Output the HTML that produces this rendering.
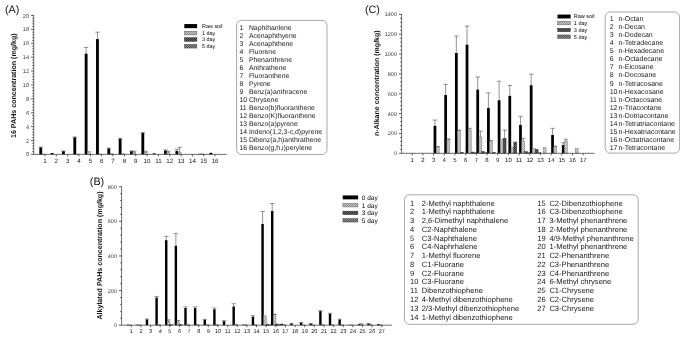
<!DOCTYPE html>
<html><head><meta charset="utf-8"><title>Figure</title>
<style>html,body{margin:0;padding:0;background:#fff;}svg{display:block;font-family:"Liberation Sans", Arial, sans-serif;text-rendering:geometricPrecision;}</style>
</head><body>
<svg width="685" height="338" viewBox="0 0 685 338">
<rect width="685" height="338" fill="#fff"/>
<defs>
<pattern id="p1" width="2" height="2" patternUnits="userSpaceOnUse"><rect width="2" height="2" fill="#d2d2d2"/><rect width="1" height="1" fill="#aaaaaa"/><rect x="1" y="1" width="1" height="1" fill="#aaaaaa"/></pattern>
<pattern id="p2" width="2" height="2" patternUnits="userSpaceOnUse"><rect width="2" height="2" fill="#646464"/><rect width="1" height="1" fill="#303030"/><rect x="1" y="1" width="1" height="1" fill="#303030"/></pattern>
<pattern id="p3" width="2" height="2" patternUnits="userSpaceOnUse"><rect width="2" height="2" fill="#8c8c8c"/><rect width="1" height="1" fill="#585858"/><rect x="1" y="1" width="1" height="1" fill="#585858"/></pattern>
<pattern id="p1L" width="2" height="2" patternUnits="userSpaceOnUse"><rect width="2" height="2" fill="#c8c8c8"/><rect width="1" height="1" fill="#909090"/><rect x="1" y="1" width="1" height="1" fill="#909090"/></pattern>
<filter id="bl" x="0" y="0" width="685" height="338" filterUnits="userSpaceOnUse"><feGaussianBlur stdDeviation="0.35"/></filter>
</defs>
<g filter="url(#bl)">
<text x="4.9" y="13.4" font-size="10.8" fill="#111">(A)</text>
<text transform="translate(16.40 85.65) rotate(-90)" font-size="7.1" font-weight="bold" text-anchor="middle" fill="#111">16 PAHs concentration (mg/kg)</text>
<rect x="39.34" y="147.46" width="2.83" height="6.95" fill="#000"/>
<path d="M40.76 147.46V147.04M38.55 147.04H42.96" stroke="#2a2a2a" stroke-width="0.5" fill="none"/>
<rect x="42.07" y="154.05" width="3.03" height="0.35" fill="url(#p1)" stroke="#777" stroke-width="0.45"/>
<rect x="50.68" y="153.01" width="2.83" height="1.39" fill="#000"/>
<rect x="62.02" y="151.27" width="2.83" height="3.13" fill="#000"/>
<path d="M63.44 151.27V151.00M61.24 151.00H65.64" stroke="#2a2a2a" stroke-width="0.5" fill="none"/>
<rect x="73.36" y="137.32" width="2.83" height="17.08" fill="#000"/>
<path d="M74.78 137.32V136.97M72.58 136.97H76.98" stroke="#2a2a2a" stroke-width="0.5" fill="none"/>
<rect x="76.09" y="154.05" width="3.03" height="0.35" fill="url(#p1)" stroke="#777" stroke-width="0.45"/>
<rect x="84.70" y="53.70" width="2.83" height="100.70" fill="#000"/>
<path d="M86.12 53.70V47.45M83.92 47.45H88.32" stroke="#2a2a2a" stroke-width="0.5" fill="none"/>
<rect x="87.43" y="151.27" width="3.03" height="3.13" fill="url(#p1)" stroke="#777" stroke-width="0.45"/>
<rect x="96.04" y="39.11" width="2.83" height="115.29" fill="#000"/>
<path d="M97.46 39.11V32.17M95.26 32.17H99.66" stroke="#2a2a2a" stroke-width="0.5" fill="none"/>
<rect x="98.77" y="154.05" width="3.03" height="0.35" fill="url(#p1)" stroke="#777" stroke-width="0.45"/>
<rect x="107.38" y="148.50" width="2.83" height="5.90" fill="#000"/>
<path d="M108.80 148.50V148.15M106.59 148.15H111.00" stroke="#2a2a2a" stroke-width="0.5" fill="none"/>
<rect x="110.11" y="153.71" width="3.03" height="0.69" fill="url(#p1)" stroke="#777" stroke-width="0.45"/>
<rect x="118.72" y="138.77" width="2.83" height="15.63" fill="#000"/>
<path d="M120.14 138.77V138.22M117.94 138.22H122.34" stroke="#2a2a2a" stroke-width="0.5" fill="none"/>
<rect x="121.45" y="153.71" width="3.03" height="0.69" fill="url(#p1)" stroke="#777" stroke-width="0.45"/>
<rect x="130.06" y="151.27" width="2.83" height="3.13" fill="#000"/>
<path d="M131.47 151.27V150.93M129.28 150.93H133.67" stroke="#2a2a2a" stroke-width="0.5" fill="none"/>
<rect x="132.79" y="152.32" width="3.03" height="2.08" fill="url(#p1)" stroke="#777" stroke-width="0.45"/>
<path d="M134.31 152.32V151.27M132.11 151.27H136.50" stroke="#2a2a2a" stroke-width="0.5" fill="none"/>
<rect x="141.40" y="133.08" width="2.83" height="21.32" fill="#000"/>
<path d="M142.81 133.08V132.52M140.62 132.52H145.01" stroke="#2a2a2a" stroke-width="0.5" fill="none"/>
<rect x="144.13" y="152.32" width="3.03" height="2.08" fill="url(#p1)" stroke="#777" stroke-width="0.45"/>
<path d="M145.65 152.32V151.27M143.45 151.27H147.84" stroke="#2a2a2a" stroke-width="0.5" fill="none"/>
<rect x="152.74" y="153.36" width="2.83" height="1.04" fill="#000"/>
<rect x="164.08" y="150.58" width="2.83" height="3.82" fill="#000"/>
<path d="M165.50 150.58V149.89M163.30 149.89H167.69" stroke="#2a2a2a" stroke-width="0.5" fill="none"/>
<rect x="166.81" y="152.32" width="3.03" height="2.08" fill="url(#p1)" stroke="#777" stroke-width="0.45"/>
<path d="M168.33 152.32V151.27M166.13 151.27H170.53" stroke="#2a2a2a" stroke-width="0.5" fill="none"/>
<rect x="175.42" y="150.93" width="2.83" height="3.47" fill="#000"/>
<path d="M176.83 150.93V149.26M174.63 149.26H179.03" stroke="#2a2a2a" stroke-width="0.5" fill="none"/>
<rect x="178.15" y="152.11" width="3.03" height="2.29" fill="url(#p1)" stroke="#777" stroke-width="0.45"/>
<path d="M179.66 152.11V147.25M177.47 147.25H181.86" stroke="#2a2a2a" stroke-width="0.5" fill="none"/>
<rect x="198.10" y="153.84" width="2.83" height="0.56" fill="#000"/>
<rect x="200.83" y="153.84" width="3.03" height="0.56" fill="url(#p1)" stroke="#777" stroke-width="0.45"/>
<rect x="209.44" y="152.80" width="2.83" height="1.60" fill="#000"/>
<path d="M33.70 15.20V154.40H226.80" stroke="#3c3c3c" stroke-width="0.75" fill="none"/>
<text x="29.10" y="156.47" font-size="5.6" text-anchor="end" fill="#3a3a3a">0</text>
<text x="29.10" y="142.58" font-size="5.6" text-anchor="end" fill="#3a3a3a">2</text>
<text x="29.10" y="128.69" font-size="5.6" text-anchor="end" fill="#3a3a3a">4</text>
<text x="29.10" y="114.80" font-size="5.6" text-anchor="end" fill="#3a3a3a">6</text>
<text x="29.10" y="100.91" font-size="5.6" text-anchor="end" fill="#3a3a3a">8</text>
<text x="29.10" y="87.02" font-size="5.6" text-anchor="end" fill="#3a3a3a">10</text>
<text x="29.10" y="73.13" font-size="5.6" text-anchor="end" fill="#3a3a3a">12</text>
<text x="29.10" y="59.24" font-size="5.6" text-anchor="end" fill="#3a3a3a">14</text>
<text x="29.10" y="45.35" font-size="5.6" text-anchor="end" fill="#3a3a3a">16</text>
<text x="29.10" y="31.46" font-size="5.6" text-anchor="end" fill="#3a3a3a">18</text>
<text x="29.10" y="17.57" font-size="5.6" text-anchor="end" fill="#3a3a3a">20</text>
<text x="45.00" y="162.50" font-size="6.2" text-anchor="middle" fill="#151515">1</text>
<text x="56.34" y="162.50" font-size="6.2" text-anchor="middle" fill="#151515">2</text>
<text x="67.68" y="162.50" font-size="6.2" text-anchor="middle" fill="#151515">3</text>
<text x="79.02" y="162.50" font-size="6.2" text-anchor="middle" fill="#151515">4</text>
<text x="90.36" y="162.50" font-size="6.2" text-anchor="middle" fill="#151515">5</text>
<text x="101.70" y="162.50" font-size="6.2" text-anchor="middle" fill="#151515">6</text>
<text x="113.04" y="162.50" font-size="6.2" text-anchor="middle" fill="#151515">7</text>
<text x="124.38" y="162.50" font-size="6.2" text-anchor="middle" fill="#151515">8</text>
<text x="135.72" y="162.50" font-size="6.2" text-anchor="middle" fill="#151515">9</text>
<text x="147.06" y="162.50" font-size="6.2" text-anchor="middle" fill="#151515">10</text>
<text x="158.40" y="162.50" font-size="6.2" text-anchor="middle" fill="#151515">11</text>
<text x="169.74" y="162.50" font-size="6.2" text-anchor="middle" fill="#151515">12</text>
<text x="181.08" y="162.50" font-size="6.2" text-anchor="middle" fill="#151515">13</text>
<text x="192.42" y="162.50" font-size="6.2" text-anchor="middle" fill="#151515">14</text>
<text x="203.76" y="162.50" font-size="6.2" text-anchor="middle" fill="#151515">15</text>
<text x="215.10" y="162.50" font-size="6.2" text-anchor="middle" fill="#151515">16</text>
<path d="M31.10 154.40H33.70M32.30 151.62H33.70M32.30 148.84H33.70M32.30 146.07H33.70M32.30 143.29H33.70M31.10 140.51H33.70M32.30 137.73H33.70M32.30 134.95H33.70M32.30 132.18H33.70M32.30 129.40H33.70M31.10 126.62H33.70M32.30 123.84H33.70M32.30 121.06H33.70M32.30 118.29H33.70M32.30 115.51H33.70M31.10 112.73H33.70M32.30 109.95H33.70M32.30 107.17H33.70M32.30 104.40H33.70M32.30 101.62H33.70M31.10 98.84H33.70M32.30 96.06H33.70M32.30 93.28H33.70M32.30 90.51H33.70M32.30 87.73H33.70M31.10 84.95H33.70M32.30 82.17H33.70M32.30 79.39H33.70M32.30 76.62H33.70M32.30 73.84H33.70M31.10 71.06H33.70M32.30 68.28H33.70M32.30 65.50H33.70M32.30 62.73H33.70M32.30 59.95H33.70M31.10 57.17H33.70M32.30 54.39H33.70M32.30 51.61H33.70M32.30 48.84H33.70M32.30 46.06H33.70M31.10 43.28H33.70M32.30 40.50H33.70M32.30 37.72H33.70M32.30 34.95H33.70M32.30 32.17H33.70M31.10 29.39H33.70M32.30 26.61H33.70M32.30 23.83H33.70M32.30 21.06H33.70M32.30 18.28H33.70M31.10 15.50H33.70M45.00 154.40V156.40M56.34 154.40V156.40M67.68 154.40V156.40M79.02 154.40V156.40M90.36 154.40V156.40M101.70 154.40V156.40M113.04 154.40V156.40M124.38 154.40V156.40M135.72 154.40V156.40M147.06 154.40V156.40M158.40 154.40V156.40M169.74 154.40V156.40M181.08 154.40V156.40M192.42 154.40V156.40M203.76 154.40V156.40M215.10 154.40V156.40" stroke="#2a2a2a" stroke-width="0.75" fill="none"/>
<rect x="184.30" y="24.05" width="12.80" height="4.10" fill="#000"/>
<text x="202.00" y="28.06" font-size="5.45" fill="#000">Raw soil</text>
<rect x="184.50" y="31.25" width="12.40" height="3.70" fill="url(#p1L)" stroke="#555" stroke-width="0.45"/>
<text x="202.00" y="35.06" font-size="5.45" fill="#000">1 day</text>
<rect x="184.50" y="37.65" width="12.40" height="3.70" fill="url(#p2)" stroke="#2a2a2a" stroke-width="0.45"/>
<text x="202.00" y="41.46" font-size="5.45" fill="#000">3 day</text>
<rect x="184.50" y="44.35" width="12.40" height="3.70" fill="url(#p3)" stroke="#444" stroke-width="0.45"/>
<text x="202.00" y="48.16" font-size="5.45" fill="#000">5 day</text>
<rect x="236.60" y="20.40" width="90.40" height="134.10" rx="5" ry="5" fill="#fff" stroke="#7a7a7a" stroke-width="0.65"/>
<text x="239.50" y="29.67" font-size="6.86" fill="#1a1a1a">1</text>
<text x="248.90" y="29.67" font-size="6.86" fill="#1a1a1a">Naphthanlene</text>
<text x="239.50" y="37.67" font-size="6.86" fill="#1a1a1a">2</text>
<text x="248.90" y="37.67" font-size="6.86" fill="#1a1a1a">Acenaphthyene</text>
<text x="239.50" y="45.67" font-size="6.86" fill="#1a1a1a">3</text>
<text x="248.90" y="45.67" font-size="6.86" fill="#1a1a1a">Acenaphthene</text>
<text x="239.50" y="53.67" font-size="6.86" fill="#1a1a1a">4</text>
<text x="248.90" y="53.67" font-size="6.86" fill="#1a1a1a">Fluorene</text>
<text x="239.50" y="61.67" font-size="6.86" fill="#1a1a1a">5</text>
<text x="248.90" y="61.67" font-size="6.86" fill="#1a1a1a">Phenanthrene</text>
<text x="239.50" y="69.67" font-size="6.86" fill="#1a1a1a">6</text>
<text x="248.90" y="69.67" font-size="6.86" fill="#1a1a1a">Anthrathene</text>
<text x="239.50" y="77.67" font-size="6.86" fill="#1a1a1a">7</text>
<text x="248.90" y="77.67" font-size="6.86" fill="#1a1a1a">Fluoranthene</text>
<text x="239.50" y="85.67" font-size="6.86" fill="#1a1a1a">8</text>
<text x="248.90" y="85.67" font-size="6.86" fill="#1a1a1a">Pyrene</text>
<text x="239.50" y="93.67" font-size="6.86" fill="#1a1a1a">9</text>
<text x="248.90" y="93.67" font-size="6.86" fill="#1a1a1a">Benz(a)anthracene</text>
<text x="239.50" y="101.67" font-size="6.86" fill="#1a1a1a">10</text>
<text x="248.90" y="101.67" font-size="6.86" fill="#1a1a1a">Chrysene</text>
<text x="239.50" y="109.67" font-size="6.86" fill="#1a1a1a">11</text>
<text x="248.90" y="109.67" font-size="6.86" fill="#1a1a1a">Benzo(b)fluoranthene</text>
<text x="239.50" y="117.67" font-size="6.86" fill="#1a1a1a">12</text>
<text x="248.90" y="117.67" font-size="6.86" fill="#1a1a1a">Benzo(K)fluoranthene</text>
<text x="239.50" y="125.67" font-size="6.86" fill="#1a1a1a">13</text>
<text x="248.90" y="125.67" font-size="6.86" fill="#1a1a1a">Benzo(a)pyrene</text>
<text x="239.50" y="133.67" font-size="6.86" fill="#1a1a1a">14</text>
<text x="248.90" y="133.67" font-size="6.86" fill="#1a1a1a">Indeno(1,2,3-c,d)pyrene</text>
<text x="239.50" y="141.67" font-size="6.86" fill="#1a1a1a">15</text>
<text x="248.90" y="141.67" font-size="6.86" fill="#1a1a1a">Dibenz(a,h)anthrathene</text>
<text x="239.50" y="149.67" font-size="6.86" fill="#1a1a1a">16</text>
<text x="248.90" y="149.67" font-size="6.86" fill="#1a1a1a">Benzo(g,h,i)perylene</text>
<text x="364.9" y="13.4" font-size="10.8" fill="#111">(C)</text>
<text transform="translate(378.80 83.20) rotate(-90)" font-size="7.05" font-weight="bold" text-anchor="middle" fill="#111">n-Alkane concentration (mg/kg)</text>
<rect x="433.58" y="125.82" width="2.75" height="27.48" fill="#000"/>
<path d="M434.95 125.82V120.06M432.75 120.06H437.15" stroke="#2a2a2a" stroke-width="0.5" fill="none"/>
<rect x="436.23" y="147.05" width="2.95" height="6.25" fill="url(#p1)" stroke="#777" stroke-width="0.45"/>
<path d="M437.70 147.05V146.55M435.50 146.55H439.90" stroke="#2a2a2a" stroke-width="0.5" fill="none"/>
<rect x="444.27" y="95.06" width="2.75" height="58.24" fill="#000"/>
<path d="M445.64 95.06V84.44M443.44 84.44H447.84" stroke="#2a2a2a" stroke-width="0.5" fill="none"/>
<rect x="446.92" y="139.71" width="2.95" height="13.59" fill="url(#p1)" stroke="#777" stroke-width="0.45"/>
<path d="M448.39 139.71V138.91M446.19 138.91H450.59" stroke="#2a2a2a" stroke-width="0.5" fill="none"/>
<rect x="454.96" y="52.99" width="2.75" height="100.31" fill="#000"/>
<path d="M456.33 52.99V36.13M454.13 36.13H458.53" stroke="#2a2a2a" stroke-width="0.5" fill="none"/>
<rect x="457.61" y="130.68" width="2.95" height="22.62" fill="url(#p1)" stroke="#777" stroke-width="0.45"/>
<path d="M459.08 130.68V130.18M456.88 130.18H461.28" stroke="#2a2a2a" stroke-width="0.5" fill="none"/>
<rect x="460.36" y="152.31" width="2.95" height="0.99" fill="url(#p2)" stroke="#333" stroke-width="0.45"/>
<rect x="465.65" y="44.66" width="2.75" height="108.64" fill="#000"/>
<path d="M467.02 44.66V26.10M464.82 26.10H469.22" stroke="#2a2a2a" stroke-width="0.5" fill="none"/>
<rect x="468.30" y="130.08" width="2.95" height="23.22" fill="url(#p1)" stroke="#777" stroke-width="0.45"/>
<path d="M469.77 130.08V128.30M467.57 128.30H471.97" stroke="#2a2a2a" stroke-width="0.5" fill="none"/>
<rect x="471.05" y="152.01" width="2.95" height="1.29" fill="url(#p2)" stroke="#333" stroke-width="0.45"/>
<rect x="473.80" y="152.51" width="2.95" height="0.79" fill="url(#p3)" stroke="#555" stroke-width="0.45"/>
<rect x="476.34" y="89.60" width="2.75" height="63.70" fill="#000"/>
<path d="M477.71 89.60V77.00M475.51 77.00H479.91" stroke="#2a2a2a" stroke-width="0.5" fill="none"/>
<rect x="478.99" y="137.03" width="2.95" height="16.27" fill="url(#p1)" stroke="#777" stroke-width="0.45"/>
<path d="M480.46 137.03V131.17M478.26 131.17H482.66" stroke="#2a2a2a" stroke-width="0.5" fill="none"/>
<rect x="481.74" y="151.61" width="2.95" height="1.69" fill="url(#p2)" stroke="#333" stroke-width="0.45"/>
<rect x="484.49" y="152.51" width="2.95" height="0.79" fill="url(#p3)" stroke="#555" stroke-width="0.45"/>
<rect x="487.03" y="108.06" width="2.75" height="45.24" fill="#000"/>
<path d="M488.40 108.06V92.88M486.20 92.88H490.60" stroke="#2a2a2a" stroke-width="0.5" fill="none"/>
<rect x="489.68" y="141.19" width="2.95" height="12.11" fill="url(#p1)" stroke="#777" stroke-width="0.45"/>
<path d="M491.15 141.19V140.40M488.95 140.40H493.35" stroke="#2a2a2a" stroke-width="0.5" fill="none"/>
<rect x="492.43" y="152.31" width="2.95" height="0.99" fill="url(#p2)" stroke="#333" stroke-width="0.45"/>
<rect x="497.72" y="100.22" width="2.75" height="53.08" fill="#000"/>
<path d="M499.09 100.22V81.27M496.89 81.27H501.29" stroke="#2a2a2a" stroke-width="0.5" fill="none"/>
<rect x="500.37" y="139.71" width="2.95" height="13.59" fill="url(#p1)" stroke="#777" stroke-width="0.45"/>
<rect x="503.12" y="138.32" width="2.95" height="14.98" fill="url(#p2)" stroke="#333" stroke-width="0.45"/>
<path d="M504.59 138.32V130.08M502.39 130.08H506.79" stroke="#2a2a2a" stroke-width="0.5" fill="none"/>
<rect x="508.41" y="95.85" width="2.75" height="57.45" fill="#000"/>
<path d="M509.78 95.85V85.44M507.58 85.44H511.98" stroke="#2a2a2a" stroke-width="0.5" fill="none"/>
<rect x="511.06" y="147.34" width="2.95" height="5.96" fill="url(#p1)" stroke="#777" stroke-width="0.45"/>
<rect x="513.81" y="142.58" width="2.95" height="10.72" fill="url(#p2)" stroke="#333" stroke-width="0.45"/>
<path d="M515.28 142.58V142.09M513.08 142.09H517.49" stroke="#2a2a2a" stroke-width="0.5" fill="none"/>
<rect x="519.10" y="124.92" width="2.75" height="28.38" fill="#000"/>
<path d="M520.48 124.92V116.29M518.27 116.29H522.68" stroke="#2a2a2a" stroke-width="0.5" fill="none"/>
<rect x="521.75" y="141.00" width="2.95" height="12.30" fill="url(#p1)" stroke="#777" stroke-width="0.45"/>
<path d="M523.23 141.00V138.32M521.02 138.32H525.43" stroke="#2a2a2a" stroke-width="0.5" fill="none"/>
<rect x="524.50" y="151.61" width="2.95" height="1.69" fill="url(#p2)" stroke="#333" stroke-width="0.45"/>
<rect x="527.25" y="152.51" width="2.95" height="0.79" fill="url(#p3)" stroke="#555" stroke-width="0.45"/>
<rect x="529.79" y="85.24" width="2.75" height="68.06" fill="#000"/>
<path d="M531.16 85.24V74.12M528.96 74.12H533.37" stroke="#2a2a2a" stroke-width="0.5" fill="none"/>
<rect x="532.44" y="148.34" width="2.95" height="4.96" fill="url(#p1)" stroke="#777" stroke-width="0.45"/>
<rect x="535.19" y="149.43" width="2.95" height="3.87" fill="url(#p2)" stroke="#333" stroke-width="0.45"/>
<rect x="537.94" y="152.61" width="2.95" height="0.69" fill="url(#p3)" stroke="#555" stroke-width="0.45"/>
<rect x="543.13" y="147.44" width="2.95" height="5.86" fill="url(#p1)" stroke="#777" stroke-width="0.45"/>
<rect x="551.17" y="135.04" width="2.75" height="18.26" fill="#000"/>
<path d="M552.54 135.04V128.30M550.34 128.30H554.75" stroke="#2a2a2a" stroke-width="0.5" fill="none"/>
<rect x="553.82" y="146.65" width="2.95" height="6.65" fill="url(#p1)" stroke="#777" stroke-width="0.45"/>
<path d="M555.29 146.65V146.15M553.09 146.15H557.50" stroke="#2a2a2a" stroke-width="0.5" fill="none"/>
<rect x="561.86" y="145.06" width="2.75" height="8.24" fill="#000"/>
<path d="M563.24 145.06V142.78M561.03 142.78H565.44" stroke="#2a2a2a" stroke-width="0.5" fill="none"/>
<rect x="564.51" y="141.00" width="2.95" height="12.30" fill="url(#p1)" stroke="#777" stroke-width="0.45"/>
<path d="M565.99 141.00V139.21M563.78 139.21H568.19" stroke="#2a2a2a" stroke-width="0.5" fill="none"/>
<rect x="575.20" y="148.34" width="2.95" height="4.96" fill="url(#p1)" stroke="#777" stroke-width="0.45"/>
<path d="M401.60 14.10V153.30H594.60" stroke="#3c3c3c" stroke-width="0.75" fill="none"/>
<text x="397.00" y="155.34" font-size="5.5" text-anchor="end" fill="#3a3a3a">0</text>
<text x="397.00" y="135.49" font-size="5.5" text-anchor="end" fill="#3a3a3a">200</text>
<text x="397.00" y="115.65" font-size="5.5" text-anchor="end" fill="#3a3a3a">400</text>
<text x="397.00" y="95.81" font-size="5.5" text-anchor="end" fill="#3a3a3a">600</text>
<text x="397.00" y="75.96" font-size="5.5" text-anchor="end" fill="#3a3a3a">800</text>
<text x="397.00" y="56.12" font-size="5.5" text-anchor="end" fill="#3a3a3a">1000</text>
<text x="397.00" y="36.28" font-size="5.5" text-anchor="end" fill="#3a3a3a">1200</text>
<text x="397.00" y="16.44" font-size="5.5" text-anchor="end" fill="#3a3a3a">1400</text>
<text x="412.20" y="162.00" font-size="6.0" text-anchor="middle" fill="#151515">1</text>
<text x="422.89" y="162.00" font-size="6.0" text-anchor="middle" fill="#151515">2</text>
<text x="433.58" y="162.00" font-size="6.0" text-anchor="middle" fill="#151515">3</text>
<text x="444.27" y="162.00" font-size="6.0" text-anchor="middle" fill="#151515">4</text>
<text x="454.96" y="162.00" font-size="6.0" text-anchor="middle" fill="#151515">5</text>
<text x="465.65" y="162.00" font-size="6.0" text-anchor="middle" fill="#151515">6</text>
<text x="476.34" y="162.00" font-size="6.0" text-anchor="middle" fill="#151515">7</text>
<text x="487.03" y="162.00" font-size="6.0" text-anchor="middle" fill="#151515">8</text>
<text x="497.72" y="162.00" font-size="6.0" text-anchor="middle" fill="#151515">9</text>
<text x="508.41" y="162.00" font-size="6.0" text-anchor="middle" fill="#151515">10</text>
<text x="519.10" y="162.00" font-size="6.0" text-anchor="middle" fill="#151515">11</text>
<text x="529.79" y="162.00" font-size="6.0" text-anchor="middle" fill="#151515">12</text>
<text x="540.48" y="162.00" font-size="6.0" text-anchor="middle" fill="#151515">13</text>
<text x="551.17" y="162.00" font-size="6.0" text-anchor="middle" fill="#151515">14</text>
<text x="561.86" y="162.00" font-size="6.0" text-anchor="middle" fill="#151515">15</text>
<text x="572.55" y="162.00" font-size="6.0" text-anchor="middle" fill="#151515">16</text>
<text x="583.24" y="162.00" font-size="6.0" text-anchor="middle" fill="#151515">17</text>
<path d="M399.00 153.30H401.60M400.20 149.33H401.60M400.20 145.36H401.60M400.20 141.39H401.60M400.20 137.43H401.60M399.00 133.46H401.60M400.20 129.49H401.60M400.20 125.52H401.60M400.20 121.55H401.60M400.20 117.58H401.60M399.00 113.61H401.60M400.20 109.65H401.60M400.20 105.68H401.60M400.20 101.71H401.60M400.20 97.74H401.60M399.00 93.77H401.60M400.20 89.80H401.60M400.20 85.83H401.60M400.20 81.87H401.60M400.20 77.90H401.60M399.00 73.93H401.60M400.20 69.96H401.60M400.20 65.99H401.60M400.20 62.02H401.60M400.20 58.05H401.60M399.00 54.09H401.60M400.20 50.12H401.60M400.20 46.15H401.60M400.20 42.18H401.60M400.20 38.21H401.60M399.00 34.24H401.60M400.20 30.27H401.60M400.20 26.31H401.60M400.20 22.34H401.60M400.20 18.37H401.60M399.00 14.40H401.60M412.20 153.30V155.30M422.89 153.30V155.30M433.58 153.30V155.30M444.27 153.30V155.30M454.96 153.30V155.30M465.65 153.30V155.30M476.34 153.30V155.30M487.03 153.30V155.30M497.72 153.30V155.30M508.41 153.30V155.30M519.10 153.30V155.30M529.79 153.30V155.30M540.48 153.30V155.30M551.17 153.30V155.30M561.86 153.30V155.30M572.55 153.30V155.30M583.24 153.30V155.30" stroke="#2a2a2a" stroke-width="0.75" fill="none"/>
<rect x="557.50" y="14.55" width="13.10" height="3.90" fill="#000"/>
<text x="573.80" y="18.48" font-size="5.5" fill="#000">Raw soil</text>
<rect x="557.70" y="21.35" width="12.70" height="3.50" fill="url(#p1L)" stroke="#555" stroke-width="0.45"/>
<text x="573.80" y="25.08" font-size="5.5" fill="#000">1 day</text>
<rect x="557.70" y="28.25" width="12.70" height="3.50" fill="url(#p2)" stroke="#2a2a2a" stroke-width="0.45"/>
<text x="573.80" y="31.98" font-size="5.5" fill="#000">3 day</text>
<rect x="557.70" y="34.95" width="12.70" height="3.50" fill="url(#p3)" stroke="#444" stroke-width="0.45"/>
<text x="573.80" y="38.68" font-size="5.5" fill="#000">5 day</text>
<rect x="605.20" y="12.00" width="74.40" height="141.10" rx="5" ry="5" fill="#fff" stroke="#7a7a7a" stroke-width="0.65"/>
<text x="609.70" y="21.12" font-size="7.0" fill="#1a1a1a">1</text>
<text x="618.50" y="21.12" font-size="7.0" fill="#1a1a1a">n-Octan</text>
<text x="609.70" y="29.17" font-size="7.0" fill="#1a1a1a">2</text>
<text x="618.50" y="29.17" font-size="7.0" fill="#1a1a1a">n-Decan</text>
<text x="609.70" y="37.22" font-size="7.0" fill="#1a1a1a">3</text>
<text x="618.50" y="37.22" font-size="7.0" fill="#1a1a1a">n-Dodecan</text>
<text x="609.70" y="45.27" font-size="7.0" fill="#1a1a1a">4</text>
<text x="618.50" y="45.27" font-size="7.0" fill="#1a1a1a">n-Tetradecane</text>
<text x="609.70" y="53.32" font-size="7.0" fill="#1a1a1a">5</text>
<text x="618.50" y="53.32" font-size="7.0" fill="#1a1a1a">n-Hexadecane</text>
<text x="609.70" y="61.37" font-size="7.0" fill="#1a1a1a">6</text>
<text x="618.50" y="61.37" font-size="7.0" fill="#1a1a1a">n-Octadecane</text>
<text x="609.70" y="69.42" font-size="7.0" fill="#1a1a1a">7</text>
<text x="618.50" y="69.42" font-size="7.0" fill="#1a1a1a">n-Eicosane</text>
<text x="609.70" y="77.47" font-size="7.0" fill="#1a1a1a">8</text>
<text x="618.50" y="77.47" font-size="7.0" fill="#1a1a1a">n-Docosane</text>
<text x="609.70" y="85.52" font-size="7.0" fill="#1a1a1a">9</text>
<text x="618.50" y="85.52" font-size="7.0" fill="#1a1a1a">n-Tetracosane</text>
<text x="609.70" y="93.57" font-size="7.0" fill="#1a1a1a">10</text>
<text x="618.50" y="93.57" font-size="7.0" fill="#1a1a1a">n-Hexacosane</text>
<text x="609.70" y="101.62" font-size="7.0" fill="#1a1a1a">11</text>
<text x="618.50" y="101.62" font-size="7.0" fill="#1a1a1a">n-Octacosane</text>
<text x="609.70" y="109.67" font-size="7.0" fill="#1a1a1a">12</text>
<text x="618.50" y="109.67" font-size="7.0" fill="#1a1a1a">n-Triacontane</text>
<text x="609.70" y="117.72" font-size="7.0" fill="#1a1a1a">13</text>
<text x="618.50" y="117.72" font-size="7.0" fill="#1a1a1a">n-Dotriacontane</text>
<text x="609.70" y="125.77" font-size="7.0" fill="#1a1a1a">14</text>
<text x="618.50" y="125.77" font-size="7.0" fill="#1a1a1a">n-Tetratriacontane</text>
<text x="609.70" y="133.82" font-size="7.0" fill="#1a1a1a">15</text>
<text x="618.50" y="133.82" font-size="7.0" fill="#1a1a1a">n-Hexatriacontane</text>
<text x="609.70" y="141.87" font-size="7.0" fill="#1a1a1a">16</text>
<text x="618.50" y="141.87" font-size="7.0" fill="#1a1a1a">n-Octatriacontane</text>
<text x="609.70" y="149.92" font-size="7.0" fill="#1a1a1a">17</text>
<text x="618.50" y="149.92" font-size="7.0" fill="#1a1a1a">n-Tetracontane</text>
<text x="89.8" y="184.9" font-size="10.8" fill="#111">(B)</text>
<text transform="translate(102.00 255.50) rotate(-90)" font-size="7.09" font-weight="bold" text-anchor="middle" fill="#111">Alkylated PAHs concentration (mg/kg)</text>
<rect x="126.48" y="324.68" width="2.41" height="0.52" fill="#000"/>
<rect x="128.79" y="324.85" width="2.61" height="0.35" fill="url(#p1)" stroke="#777" stroke-width="0.45"/>
<rect x="136.12" y="324.68" width="2.41" height="0.52" fill="#000"/>
<rect x="138.43" y="324.85" width="2.61" height="0.35" fill="url(#p1)" stroke="#777" stroke-width="0.45"/>
<rect x="145.75" y="319.49" width="2.41" height="5.71" fill="#000"/>
<path d="M146.96 319.49V318.97M144.76 318.97H149.16" stroke="#2a2a2a" stroke-width="0.5" fill="none"/>
<rect x="155.39" y="297.67" width="2.41" height="27.53" fill="#000"/>
<path d="M156.59 297.67V296.46M154.39 296.46H158.79" stroke="#2a2a2a" stroke-width="0.5" fill="none"/>
<rect x="157.70" y="324.33" width="2.61" height="0.87" fill="url(#p1)" stroke="#777" stroke-width="0.45"/>
<rect x="165.02" y="240.20" width="2.41" height="85.00" fill="#000"/>
<path d="M166.23 240.20V236.39M164.03 236.39H168.43" stroke="#2a2a2a" stroke-width="0.5" fill="none"/>
<rect x="167.33" y="321.39" width="2.61" height="3.81" fill="url(#p1)" stroke="#777" stroke-width="0.45"/>
<path d="M168.64 321.39V319.83M166.44 319.83H170.84" stroke="#2a2a2a" stroke-width="0.5" fill="none"/>
<rect x="169.74" y="324.51" width="2.61" height="0.69" fill="url(#p2)" stroke="#333" stroke-width="0.45"/>
<rect x="174.66" y="245.74" width="2.41" height="79.46" fill="#000"/>
<path d="M175.86 245.74V233.44M173.66 233.44H178.06" stroke="#2a2a2a" stroke-width="0.5" fill="none"/>
<rect x="176.97" y="322.08" width="2.61" height="3.12" fill="url(#p1)" stroke="#777" stroke-width="0.45"/>
<path d="M178.27 322.08V320.53M176.07 320.53H180.47" stroke="#2a2a2a" stroke-width="0.5" fill="none"/>
<rect x="179.38" y="324.51" width="2.61" height="0.69" fill="url(#p2)" stroke="#333" stroke-width="0.45"/>
<rect x="184.29" y="308.06" width="2.41" height="17.14" fill="#000"/>
<path d="M185.50 308.06V306.85M183.30 306.85H187.70" stroke="#2a2a2a" stroke-width="0.5" fill="none"/>
<rect x="186.60" y="324.33" width="2.61" height="0.87" fill="url(#p1)" stroke="#777" stroke-width="0.45"/>
<rect x="193.93" y="308.06" width="2.41" height="17.14" fill="#000"/>
<path d="M195.13 308.06V306.85M192.93 306.85H197.33" stroke="#2a2a2a" stroke-width="0.5" fill="none"/>
<rect x="196.24" y="324.33" width="2.61" height="0.87" fill="url(#p1)" stroke="#777" stroke-width="0.45"/>
<rect x="203.56" y="319.83" width="2.41" height="5.37" fill="#000"/>
<path d="M204.77 319.83V319.31M202.57 319.31H206.97" stroke="#2a2a2a" stroke-width="0.5" fill="none"/>
<rect x="205.87" y="324.68" width="2.61" height="0.52" fill="url(#p1)" stroke="#777" stroke-width="0.45"/>
<rect x="213.20" y="309.27" width="2.41" height="15.93" fill="#000"/>
<path d="M214.40 309.27V308.06M212.20 308.06H216.60" stroke="#2a2a2a" stroke-width="0.5" fill="none"/>
<rect x="215.51" y="324.51" width="2.61" height="0.69" fill="url(#p1)" stroke="#777" stroke-width="0.45"/>
<rect x="222.83" y="321.22" width="2.41" height="3.98" fill="#000"/>
<path d="M224.04 321.22V320.70M221.84 320.70H226.24" stroke="#2a2a2a" stroke-width="0.5" fill="none"/>
<rect x="232.47" y="306.50" width="2.41" height="18.70" fill="#000"/>
<path d="M233.67 306.50V303.73M231.47 303.73H235.87" stroke="#2a2a2a" stroke-width="0.5" fill="none"/>
<rect x="234.78" y="323.99" width="2.61" height="1.21" fill="url(#p1)" stroke="#777" stroke-width="0.45"/>
<rect x="242.10" y="324.68" width="2.41" height="0.52" fill="#000"/>
<rect x="244.41" y="324.68" width="2.61" height="0.52" fill="url(#p1)" stroke="#777" stroke-width="0.45"/>
<rect x="251.74" y="316.72" width="2.41" height="8.48" fill="#000"/>
<path d="M252.94 316.72V315.68M250.74 315.68H255.14" stroke="#2a2a2a" stroke-width="0.5" fill="none"/>
<rect x="254.05" y="324.51" width="2.61" height="0.69" fill="url(#p1)" stroke="#777" stroke-width="0.45"/>
<rect x="261.37" y="223.92" width="2.41" height="101.28" fill="#000"/>
<path d="M262.57 223.92V211.46M260.38 211.46H264.77" stroke="#2a2a2a" stroke-width="0.5" fill="none"/>
<rect x="263.68" y="315.85" width="2.61" height="9.35" fill="url(#p1)" stroke="#777" stroke-width="0.45"/>
<rect x="266.09" y="324.16" width="2.61" height="1.04" fill="url(#p2)" stroke="#333" stroke-width="0.45"/>
<rect x="268.50" y="324.68" width="2.61" height="0.52" fill="url(#p3)" stroke="#555" stroke-width="0.45"/>
<rect x="271.01" y="210.94" width="2.41" height="114.26" fill="#000"/>
<path d="M272.21 210.94V203.49M270.01 203.49H274.41" stroke="#2a2a2a" stroke-width="0.5" fill="none"/>
<rect x="273.32" y="314.81" width="2.61" height="10.39" fill="url(#p1)" stroke="#777" stroke-width="0.45"/>
<path d="M274.62 314.81V314.29M272.42 314.29H276.82" stroke="#2a2a2a" stroke-width="0.5" fill="none"/>
<rect x="275.73" y="323.99" width="2.61" height="1.21" fill="url(#p2)" stroke="#333" stroke-width="0.45"/>
<rect x="278.14" y="324.16" width="2.61" height="1.04" fill="url(#p3)" stroke="#555" stroke-width="0.45"/>
<rect x="280.64" y="323.81" width="2.41" height="1.39" fill="#000"/>
<rect x="282.95" y="324.68" width="2.61" height="0.52" fill="url(#p1)" stroke="#777" stroke-width="0.45"/>
<rect x="290.28" y="323.64" width="2.41" height="1.56" fill="#000"/>
<path d="M291.48 323.64V323.30M289.28 323.30H293.68" stroke="#2a2a2a" stroke-width="0.5" fill="none"/>
<rect x="299.91" y="322.78" width="2.41" height="2.42" fill="#000"/>
<path d="M301.12 322.78V322.43M298.92 322.43H303.31" stroke="#2a2a2a" stroke-width="0.5" fill="none"/>
<rect x="302.22" y="324.85" width="2.61" height="0.35" fill="url(#p1)" stroke="#777" stroke-width="0.45"/>
<rect x="309.55" y="323.81" width="2.41" height="1.39" fill="#000"/>
<path d="M310.75 323.81V323.47M308.55 323.47H312.95" stroke="#2a2a2a" stroke-width="0.5" fill="none"/>
<rect x="311.86" y="324.85" width="2.61" height="0.35" fill="url(#p1)" stroke="#777" stroke-width="0.45"/>
<rect x="319.18" y="311.18" width="2.41" height="14.02" fill="#000"/>
<path d="M320.38 311.18V310.66M318.19 310.66H322.58" stroke="#2a2a2a" stroke-width="0.5" fill="none"/>
<rect x="321.49" y="324.33" width="2.61" height="0.87" fill="url(#p1)" stroke="#777" stroke-width="0.45"/>
<rect x="328.81" y="313.77" width="2.41" height="11.43" fill="#000"/>
<path d="M330.02 313.77V313.25M327.82 313.25H332.22" stroke="#2a2a2a" stroke-width="0.5" fill="none"/>
<rect x="331.12" y="324.33" width="2.61" height="0.87" fill="url(#p1)" stroke="#777" stroke-width="0.45"/>
<rect x="338.45" y="319.66" width="2.41" height="5.54" fill="#000"/>
<path d="M339.65 319.66V319.14M337.45 319.14H341.85" stroke="#2a2a2a" stroke-width="0.5" fill="none"/>
<rect x="340.76" y="324.68" width="2.61" height="0.52" fill="url(#p1)" stroke="#777" stroke-width="0.45"/>
<rect x="348.08" y="324.85" width="2.41" height="0.35" fill="#000"/>
<rect x="350.39" y="324.85" width="2.61" height="0.35" fill="url(#p1)" stroke="#777" stroke-width="0.45"/>
<rect x="357.72" y="324.16" width="2.41" height="1.04" fill="#000"/>
<rect x="360.03" y="324.16" width="2.61" height="1.04" fill="url(#p1)" stroke="#777" stroke-width="0.45"/>
<path d="M361.34 324.16V323.81M359.14 323.81H363.54" stroke="#2a2a2a" stroke-width="0.5" fill="none"/>
<rect x="367.36" y="323.81" width="2.41" height="1.39" fill="#000"/>
<path d="M368.56 323.81V323.47M366.36 323.47H370.76" stroke="#2a2a2a" stroke-width="0.5" fill="none"/>
<rect x="369.67" y="324.51" width="2.61" height="0.69" fill="url(#p1)" stroke="#777" stroke-width="0.45"/>
<rect x="376.99" y="324.16" width="2.41" height="1.04" fill="#000"/>
<rect x="379.30" y="324.33" width="2.61" height="0.87" fill="url(#p1)" stroke="#777" stroke-width="0.45"/>
<path d="M121.60 186.40V325.20H392.00" stroke="#3c3c3c" stroke-width="0.75" fill="none"/>
<text x="117.00" y="327.24" font-size="5.5" text-anchor="end" fill="#3a3a3a">0</text>
<text x="117.00" y="292.61" font-size="5.5" text-anchor="end" fill="#3a3a3a">200</text>
<text x="117.00" y="257.99" font-size="5.5" text-anchor="end" fill="#3a3a3a">400</text>
<text x="117.00" y="223.36" font-size="5.5" text-anchor="end" fill="#3a3a3a">600</text>
<text x="117.00" y="188.73" font-size="5.5" text-anchor="end" fill="#3a3a3a">800</text>
<text x="131.30" y="333.40" font-size="5.6" text-anchor="middle" fill="#151515">1</text>
<text x="140.94" y="333.40" font-size="5.6" text-anchor="middle" fill="#151515">2</text>
<text x="150.57" y="333.40" font-size="5.6" text-anchor="middle" fill="#151515">3</text>
<text x="160.21" y="333.40" font-size="5.6" text-anchor="middle" fill="#151515">4</text>
<text x="169.84" y="333.40" font-size="5.6" text-anchor="middle" fill="#151515">5</text>
<text x="179.48" y="333.40" font-size="5.6" text-anchor="middle" fill="#151515">6</text>
<text x="189.11" y="333.40" font-size="5.6" text-anchor="middle" fill="#151515">7</text>
<text x="198.75" y="333.40" font-size="5.6" text-anchor="middle" fill="#151515">8</text>
<text x="208.38" y="333.40" font-size="5.6" text-anchor="middle" fill="#151515">9</text>
<text x="218.02" y="333.40" font-size="5.6" text-anchor="middle" fill="#151515">10</text>
<text x="227.65" y="333.40" font-size="5.6" text-anchor="middle" fill="#151515">11</text>
<text x="237.29" y="333.40" font-size="5.6" text-anchor="middle" fill="#151515">12</text>
<text x="246.92" y="333.40" font-size="5.6" text-anchor="middle" fill="#151515">13</text>
<text x="256.56" y="333.40" font-size="5.6" text-anchor="middle" fill="#151515">14</text>
<text x="266.19" y="333.40" font-size="5.6" text-anchor="middle" fill="#151515">15</text>
<text x="275.83" y="333.40" font-size="5.6" text-anchor="middle" fill="#151515">16</text>
<text x="285.46" y="333.40" font-size="5.6" text-anchor="middle" fill="#151515">17</text>
<text x="295.10" y="333.40" font-size="5.6" text-anchor="middle" fill="#151515">18</text>
<text x="304.73" y="333.40" font-size="5.6" text-anchor="middle" fill="#151515">19</text>
<text x="314.37" y="333.40" font-size="5.6" text-anchor="middle" fill="#151515">20</text>
<text x="324.00" y="333.40" font-size="5.6" text-anchor="middle" fill="#151515">21</text>
<text x="333.63" y="333.40" font-size="5.6" text-anchor="middle" fill="#151515">22</text>
<text x="343.27" y="333.40" font-size="5.6" text-anchor="middle" fill="#151515">23</text>
<text x="352.90" y="333.40" font-size="5.6" text-anchor="middle" fill="#151515">24</text>
<text x="362.54" y="333.40" font-size="5.6" text-anchor="middle" fill="#151515">25</text>
<text x="372.18" y="333.40" font-size="5.6" text-anchor="middle" fill="#151515">26</text>
<text x="381.81" y="333.40" font-size="5.6" text-anchor="middle" fill="#151515">27</text>
<path d="M119.00 325.20H121.60M120.20 318.27H121.60M120.20 311.35H121.60M120.20 304.43H121.60M120.20 297.50H121.60M119.00 290.57H121.60M120.20 283.65H121.60M120.20 276.72H121.60M120.20 269.80H121.60M120.20 262.88H121.60M119.00 255.95H121.60M120.20 249.02H121.60M120.20 242.10H121.60M120.20 235.17H121.60M120.20 228.25H121.60M119.00 221.32H121.60M120.20 214.40H121.60M120.20 207.47H121.60M120.20 200.55H121.60M120.20 193.62H121.60M119.00 186.70H121.60M131.30 325.20V327.20M140.94 325.20V327.20M150.57 325.20V327.20M160.21 325.20V327.20M169.84 325.20V327.20M179.48 325.20V327.20M189.11 325.20V327.20M198.75 325.20V327.20M208.38 325.20V327.20M218.02 325.20V327.20M227.65 325.20V327.20M237.29 325.20V327.20M246.92 325.20V327.20M256.56 325.20V327.20M266.19 325.20V327.20M275.83 325.20V327.20M285.46 325.20V327.20M295.10 325.20V327.20M304.73 325.20V327.20M314.37 325.20V327.20M324.00 325.20V327.20M333.63 325.20V327.20M343.27 325.20V327.20M352.90 325.20V327.20M362.54 325.20V327.20M372.18 325.20V327.20M381.81 325.20V327.20" stroke="#2a2a2a" stroke-width="0.75" fill="none"/>
<rect x="342.70" y="195.45" width="15.40" height="3.90" fill="#000"/>
<text x="361.80" y="199.74" font-size="6.5" fill="#000">0 day</text>
<rect x="342.90" y="203.45" width="15.00" height="3.50" fill="url(#p1L)" stroke="#555" stroke-width="0.45"/>
<text x="361.80" y="207.54" font-size="6.5" fill="#000">1 day</text>
<rect x="342.90" y="211.15" width="15.00" height="3.50" fill="url(#p2)" stroke="#2a2a2a" stroke-width="0.45"/>
<text x="361.80" y="215.24" font-size="6.5" fill="#000">3 day</text>
<rect x="342.90" y="218.55" width="15.00" height="3.50" fill="url(#p3)" stroke="#444" stroke-width="0.45"/>
<text x="361.80" y="222.64" font-size="6.5" fill="#000">5 day</text>
<rect x="404.50" y="194.80" width="233.70" height="129.50" rx="5" ry="5" fill="#fff" stroke="#7a7a7a" stroke-width="0.65"/>
<text x="410.10" y="205.53" font-size="7.58" fill="#1a1a1a">1</text>
<text x="421.80" y="205.53" font-size="7.58" fill="#1a1a1a">2-Methyl naphthalene</text>
<text x="410.10" y="214.30" font-size="7.58" fill="#1a1a1a">2</text>
<text x="421.80" y="214.30" font-size="7.58" fill="#1a1a1a">1-Methyl naphthalene</text>
<text x="410.10" y="223.07" font-size="7.58" fill="#1a1a1a">3</text>
<text x="421.80" y="223.07" font-size="7.58" fill="#1a1a1a">2,6-Dimethyl naphthalene</text>
<text x="410.10" y="231.84" font-size="7.58" fill="#1a1a1a">4</text>
<text x="421.80" y="231.84" font-size="7.58" fill="#1a1a1a">C2-Naphthalene</text>
<text x="410.10" y="240.61" font-size="7.58" fill="#1a1a1a">5</text>
<text x="421.80" y="240.61" font-size="7.58" fill="#1a1a1a">C3-Naphthalene</text>
<text x="410.10" y="249.38" font-size="7.58" fill="#1a1a1a">6</text>
<text x="421.80" y="249.38" font-size="7.58" fill="#1a1a1a">C4-Naphrhalene</text>
<text x="410.10" y="258.15" font-size="7.58" fill="#1a1a1a">7</text>
<text x="421.80" y="258.15" font-size="7.58" fill="#1a1a1a">1-Methyl fluorene</text>
<text x="410.10" y="266.92" font-size="7.58" fill="#1a1a1a">8</text>
<text x="421.80" y="266.92" font-size="7.58" fill="#1a1a1a">C1-Fluorane</text>
<text x="410.10" y="275.69" font-size="7.58" fill="#1a1a1a">9</text>
<text x="421.80" y="275.69" font-size="7.58" fill="#1a1a1a">C2-Fluorane</text>
<text x="410.10" y="284.46" font-size="7.58" fill="#1a1a1a">10</text>
<text x="421.80" y="284.46" font-size="7.58" fill="#1a1a1a">C3-Fluorane</text>
<text x="410.10" y="293.23" font-size="7.58" fill="#1a1a1a">11</text>
<text x="421.80" y="293.23" font-size="7.58" fill="#1a1a1a">Dibenzothiophene</text>
<text x="410.10" y="302.00" font-size="7.58" fill="#1a1a1a">12</text>
<text x="421.80" y="302.00" font-size="7.58" fill="#1a1a1a">4-Methyl dibenzothiophene</text>
<text x="410.10" y="310.77" font-size="7.58" fill="#1a1a1a">13</text>
<text x="421.80" y="310.77" font-size="7.58" fill="#1a1a1a">2/3-Methyl dibenzothiophene</text>
<text x="410.10" y="319.54" font-size="7.58" fill="#1a1a1a">14</text>
<text x="421.80" y="319.54" font-size="7.58" fill="#1a1a1a">1-Methyl dibenzothiophene</text>
<text x="537.20" y="205.53" font-size="7.58" fill="#1a1a1a">15</text>
<text x="549.40" y="205.53" font-size="7.58" fill="#1a1a1a">C2-Dibenzothiophene</text>
<text x="537.20" y="214.30" font-size="7.58" fill="#1a1a1a">16</text>
<text x="549.40" y="214.30" font-size="7.58" fill="#1a1a1a">C3-Dibenzothiophene</text>
<text x="537.20" y="223.07" font-size="7.58" fill="#1a1a1a">17</text>
<text x="549.40" y="223.07" font-size="7.58" fill="#1a1a1a">3-Methyl phenanthrene</text>
<text x="537.20" y="231.84" font-size="7.58" fill="#1a1a1a">18</text>
<text x="549.40" y="231.84" font-size="7.58" fill="#1a1a1a">2-Methyl phenanthrene</text>
<text x="537.20" y="240.61" font-size="7.58" fill="#1a1a1a">19</text>
<text x="549.40" y="240.61" font-size="7.58" fill="#1a1a1a">4/9-Methyl phenanthrene</text>
<text x="537.20" y="249.38" font-size="7.58" fill="#1a1a1a">20</text>
<text x="549.40" y="249.38" font-size="7.58" fill="#1a1a1a">1-Methyl phenanthrene</text>
<text x="537.20" y="258.15" font-size="7.58" fill="#1a1a1a">21</text>
<text x="549.40" y="258.15" font-size="7.58" fill="#1a1a1a">C2-Phenanthrene</text>
<text x="537.20" y="266.92" font-size="7.58" fill="#1a1a1a">22</text>
<text x="549.40" y="266.92" font-size="7.58" fill="#1a1a1a">C3-Phenanthrene</text>
<text x="537.20" y="275.69" font-size="7.58" fill="#1a1a1a">23</text>
<text x="549.40" y="275.69" font-size="7.58" fill="#1a1a1a">C4-Phenanthrene</text>
<text x="537.20" y="284.46" font-size="7.58" fill="#1a1a1a">24</text>
<text x="549.40" y="284.46" font-size="7.58" fill="#1a1a1a">6-Methyl chrysene</text>
<text x="537.20" y="293.23" font-size="7.58" fill="#1a1a1a">25</text>
<text x="549.40" y="293.23" font-size="7.58" fill="#1a1a1a">C1-Chrysene</text>
<text x="537.20" y="302.00" font-size="7.58" fill="#1a1a1a">26</text>
<text x="549.40" y="302.00" font-size="7.58" fill="#1a1a1a">C2-Chrysene</text>
<text x="537.20" y="310.77" font-size="7.58" fill="#1a1a1a">27</text>
<text x="549.40" y="310.77" font-size="7.58" fill="#1a1a1a">C3-Chrysene</text>
</g>
</svg>
</body></html>
